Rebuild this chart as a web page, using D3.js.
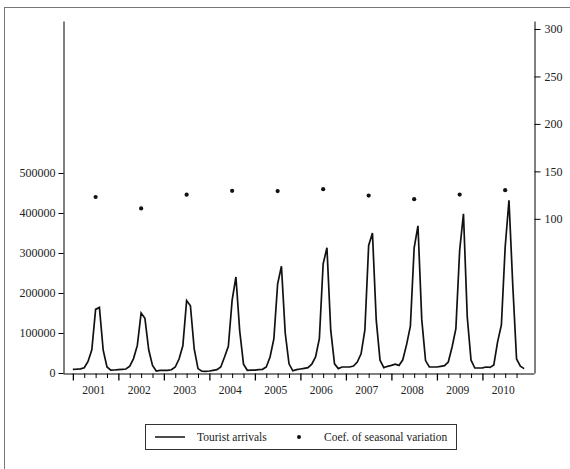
<!DOCTYPE html>
<html>
<head>
<meta charset="utf-8">
<script src="https://cdn.jsdelivr.net/npm/d3@7"></script>
<style>
  body { margin: 0; background: #fff; }
  svg { display: block; }
  .axis path, .axis line { stroke: #000; }
</style>
</head>
<body>
<script>
// monthly tourist arrivals, Jan..Dec per year
const years = [2001, 2002, 2003, 2004, 2005, 2006, 2007, 2008, 2009, 2010];
const arrivals = [
  [9200, 9500, 10500, 13000, 29000, 58000, 159000, 164000, 57000, 15000, 7000, 7500],
  [8500, 9200, 10000, 17000, 36000, 69000, 150000, 137000, 58000, 19000, 5000, 6500],
  [6500, 6500, 8000, 15000, 35000, 68000, 181000, 168000, 60000, 11000, 4500, 4000],
  [5000, 6700, 8500, 15000, 40000, 67000, 182000, 240000, 105000, 22000, 6700, 7000],
  [7000, 8500, 9200, 15000, 40000, 85000, 223000, 267000, 100000, 23000, 5500, 8500],
  [10000, 11700, 13400, 22000, 40000, 86000, 273000, 313000, 107000, 23000, 11000, 15000],
  [15000, 15000, 17400, 27500, 48000, 107000, 319000, 350000, 132000, 32000, 13400, 16700],
  [19000, 22000, 19000, 33000, 71000, 117000, 313000, 368000, 134000, 31000, 15000, 15000],
  [15000, 16700, 18400, 27500, 65000, 111000, 307000, 398000, 140000, 32000, 12500, 12500],
  [13000, 15000, 14000, 20000, 78000, 120000, 315000, 432000, 220000, 35000, 17000, 11000]
];
// coefficient of seasonal variation, one per year
const seasonalCoef = [123, 111, 125.5, 129.5, 129.2, 131.2, 124.5, 120.7, 125.6, 130.2];

const leftTicks = [0, 100000, 200000, 300000, 400000, 500000];
const rightTicks = [100, 150, 200, 250, 300];

const width = 570, height = 469;
const plotTop = 21, plotBottom = 373, plotLeft = 63, plotRight = 534;
const serif = "Liberation Serif";

const svg = d3.select("body").append("svg")
  .attr("width", width).attr("height", height);

// outer frame
svg.append("rect")
  .attr("x", 4.5).attr("y", 7.5)
  .attr("width", 700).attr("height", 700)
  .attr("fill", "none").attr("stroke", "#777").attr("stroke-width", 1);

const series = arrivals.flat().map((v, i) => ({ i: i, v: v }));
const dots = seasonalCoef.map((v, k) => ({ i: 12 * k + 6, v: v }));

const x = d3.scaleLinear().domain([-2.6, 121.6]).range([plotLeft, plotRight]);
const yL = d3.scaleLinear().domain([0, 880000]).range([plotBottom, plotTop]);
const yR = d3.scaleLinear().domain([-62.4, 308.4]).range([plotBottom, plotTop]);

// left axis
svg.append("g")
  .attr("class", "axis")
  .attr("transform", "translate(" + (plotLeft + 0.5) + ",0)")
  .call(d3.axisLeft(yL).tickValues(leftTicks).tickSize(5).tickSizeOuter(0).tickPadding(3).tickFormat(d3.format("d")))
  .attr("font-family", serif).attr("font-size", 12)
  .selectAll("text").attr("fill", "#222");

// right axis
svg.append("g")
  .attr("class", "axis")
  .attr("transform", "translate(" + (plotRight + 0.5) + ",0)")
  .call(d3.axisRight(yR).tickValues(rightTicks).tickSize(6).tickSizeOuter(0).tickPadding(4))
  .attr("font-family", serif).attr("font-size", 12)
  .selectAll("text").attr("fill", "#222");

// bottom axis, quarterly ticks
const monthTicks = d3.range(0, 120, 3);
const xAxis = svg.append("g")
  .attr("class", "axis")
  .attr("transform", "translate(0," + (plotBottom + 0.5) + ")")
  .call(d3.axisBottom(x).tickValues(monthTicks).tickSize(4.5).tickSizeOuter(0).tickFormat(""))
  .attr("font-family", serif).attr("font-size", 11.5);
xAxis.selectAll(".tick line")
  .attr("y2", d => d % 12 === 0 ? 7 : 4.5)
  .attr("stroke-width", d => d % 12 === 0 ? 1.3 : 1);

xAxis.selectAll(".year")
  .data(years)
  .enter().append("text")
  .attr("class", "year")
  .attr("x", (d, k) => x(12 * k + 5.5))
  .attr("y", 20)
  .attr("text-anchor", "middle")
  .attr("fill", "#222")
  .text(d => d);

// line
const line = d3.line().x(d => x(d.i)).y(d => yL(d.v));
svg.append("path")
  .datum(series)
  .attr("d", line)
  .attr("fill", "none")
  .attr("stroke", "#111")
  .attr("stroke-width", 1.7)
  .attr("stroke-linejoin", "miter");

svg.selectAll("circle.coef")
  .data(dots)
  .enter().append("circle")
  .attr("class", "coef")
  .attr("cx", d => x(d.i))
  .attr("cy", d => yR(d.v))
  .attr("r", 2.1)
  .attr("fill", "#111");

// legend
const lg = svg.append("g").attr("font-family", serif).attr("font-size", 11.5).attr("fill", "#222");
lg.append("rect")
  .attr("x", 145.5).attr("y", 424.5)
  .attr("width", 311).attr("height", 25)
  .attr("fill", "none").attr("stroke", "#333");
lg.append("line")
  .attr("x1", 155).attr("x2", 185).attr("y1", 437).attr("y2", 437)
  .attr("stroke", "#111").attr("stroke-width", 1.5);
lg.append("text").attr("x", 197).attr("y", 441).text("Tourist arrivals");
lg.append("circle").attr("cx", 299).attr("cy", 437).attr("r", 2).attr("fill", "#111");
lg.append("text").attr("x", 324).attr("y", 441).text("Coef. of seasonal variation");
</script>
</body>
</html>
